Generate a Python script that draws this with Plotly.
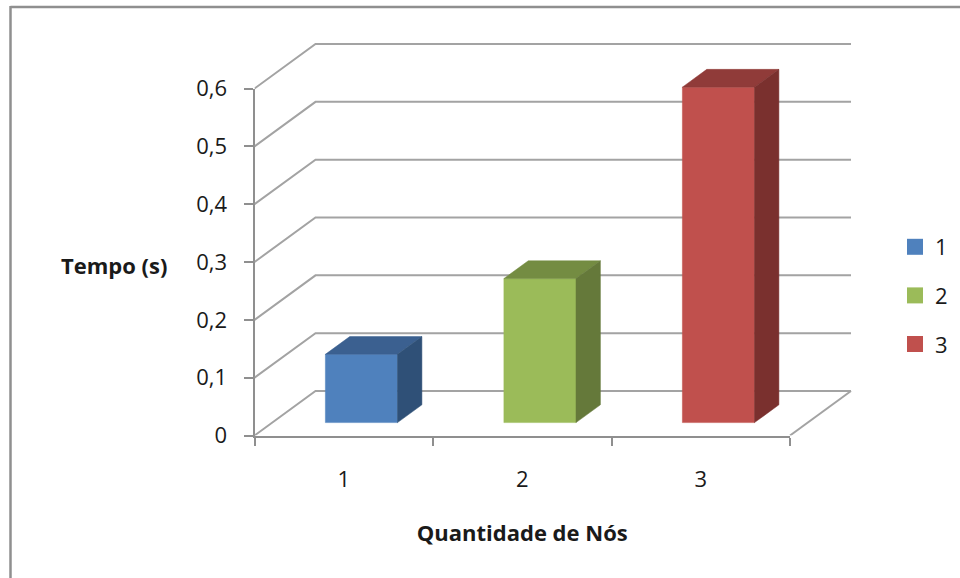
import plotly.graph_objects as go

# Chart data
categories = ["1", "2", "3"]
values = [0.118, 0.249, 0.58]
y_ticks = [0, 0.1, 0.2, 0.3, 0.4, 0.5, 0.6]
y_tick_labels = ["0", "0,1", "0,2", "0,3", "0,4", "0,5", "0,6"]

front_colors = ["#4f81bd", "#9bbb59", "#c0504d"]
top_colors = ["#3b6090", "#748c42", "#903b39"]
side_colors = ["#2f5077", "#65793a", "#7a302e"]

W, H = 960, 578
FONT = "Open Sans"
TEXT = "#1a1a1a"
GRID = "#a3a3a3"
AXIS = "#8f8f8f"

# Pixel frame of the front plane and of the oblique drawing area
LEFT, RIGHT = 254.5, 790
BOTTOM, TOP_FRONT = 435.5, 88.5
BACK_RIGHT, BACK_TOP = 851, 44

cat_px = (RIGHT - LEFT) / len(categories)
val_px = (BOTTOM - TOP_FRONT) / 0.6

# Oblique projection: full floor depth expressed in axis units
DEPTH_X = (BACK_RIGHT - RIGHT) / cat_px
DEPTH_Y = (TOP_FRONT - BACK_TOP) / val_px
BAR_WIDTH = 0.404
BAR_FRONT = 0.29
BAR_BACK = 0.69


def project(pos, value, depth):
    return pos + depth * DEPTH_X, value + depth * DEPTH_Y


def polygon(points):
    xs, ys = zip(*[project(*p) for p in points])
    return list(xs) + [xs[0]], list(ys) + [ys[0]]


fig = go.Figure()

# Real axes carry ticks and labels
fig.add_trace(go.Scatter(
    x=categories, y=values, mode="markers", marker=dict(opacity=0),
    showlegend=False, hoverinfo="skip", xaxis="x", yaxis="y",
))

# Walls and floor
x_start, x_end = 0.5, 0.5 + len(categories)
for tick in y_ticks:
    gx, gy = zip(project(x_start, tick, 0), project(x_start, tick, 1), project(x_end, tick, 1))
    fig.add_trace(go.Scatter(
        x=gx, y=gy, mode="lines", line=dict(color=GRID, width=2),
        showlegend=False, hoverinfo="skip", xaxis="x2", yaxis="y2",
    ))
fx, fy = zip(project(x_end, 0, 0), project(x_end, 0, 1))
fig.add_trace(go.Scatter(
    x=fx, y=fy, mode="lines", line=dict(color=GRID, width=2),
    showlegend=False, hoverinfo="skip", xaxis="x2", yaxis="y2",
))

# Bars: front, top and side faces
for i, value in enumerate(values):
    pos = i + 1
    a, b = pos - BAR_WIDTH / 2, pos + BAR_WIDTH / 2
    faces = [
        ([(a, 0, BAR_FRONT), (b, 0, BAR_FRONT), (b, value, BAR_FRONT), (a, value, BAR_FRONT)], front_colors[i]),
        ([(a, value, BAR_FRONT), (b, value, BAR_FRONT), (b, value, BAR_BACK), (a, value, BAR_BACK)], top_colors[i]),
        ([(b, 0, BAR_FRONT), (b, 0, BAR_BACK), (b, value, BAR_BACK), (b, value, BAR_FRONT)], side_colors[i]),
    ]
    for pts, color in faces:
        px, py = polygon(pts)
        fig.add_trace(go.Scatter(
            x=px, y=py, mode="lines", fill="toself", fillcolor=color,
            line=dict(color=color, width=0.5), showlegend=False,
            hoverinfo="skip", xaxis="x2", yaxis="y2",
        ))

# Legend entries
for i, name in enumerate(categories):
    fig.add_trace(go.Scatter(
        x=[None], y=[None], mode="markers", name=name, legendgroup=name,
        marker=dict(symbol="square", size=16, color=front_colors[i]),
        xaxis="x2", yaxis="y2",
    ))

tick_font = dict(family=FONT, size=22, color=TEXT)
title_font = dict(family=FONT, size=22, color=TEXT)
fig.update_layout(
    width=W, height=H,
    margin=dict(l=0, r=0, t=0, b=0, autoexpand=False),
    paper_bgcolor="white", plot_bgcolor="rgba(0,0,0,0)",
    font=tick_font,
    xaxis=dict(
        domain=[LEFT / W, RIGHT / W], type="category", range=[-0.5, 2.5],
        anchor="y", tickson="boundaries", ticks="outside", ticklen=8,
        tickwidth=2, tickcolor=AXIS, showline=True, linecolor=AXIS, linewidth=2,
        showgrid=False, zeroline=False, tickfont=tick_font, fixedrange=True,
        ticklabelstandoff=23,
        title=dict(text="<b>Quantidade de Nós</b>", standoff=34, font=title_font),
    ),
    yaxis=dict(
        domain=[1 - BOTTOM / H, 1 - TOP_FRONT / H], range=[0, 0.6],
        anchor="x", tickmode="array", tickvals=y_ticks, ticktext=y_tick_labels,
        ticks="outside", ticklen=9, tickwidth=2, tickcolor=AXIS,
        showline=True, linecolor=AXIS, linewidth=2, showgrid=False,
        zeroline=False, tickfont=tick_font, fixedrange=True,
        ticklabelstandoff=12,
    ),
    xaxis2=dict(
        domain=[LEFT / W, (BACK_RIGHT + 4) / W],
        range=[0.5, 0.5 + (BACK_RIGHT + 4 - LEFT) / cat_px],
        anchor="y2", visible=False, fixedrange=True,
    ),
    yaxis2=dict(
        domain=[1 - BOTTOM / H, 1 - (BACK_TOP - 4) / H],
        range=[0, (BOTTOM - BACK_TOP + 4) / val_px],
        anchor="x2", visible=False, fixedrange=True,
    ),
    legend=dict(
        x=895 / W, y=1 - 226 / H, xanchor="left", yanchor="top",
        font=tick_font, tracegroupgap=17, itemwidth=30,
        bgcolor="rgba(0,0,0,0)",
    ),
    annotations=[dict(
        text="<b>Tempo (s)</b>", xref="paper", yref="paper", x=114 / W,
        y=1 - 265 / H, xanchor="center", yanchor="middle", showarrow=False,
        font=title_font,
    )],
    shapes=[
        dict(type="line", xref="paper", yref="paper", x0=10.5 / W, x1=1,
             y0=1 - 7 / H, y1=1 - 7 / H, line=dict(color=AXIS, width=2.5)),
        dict(type="line", xref="paper", yref="paper", x0=10.5 / W, x1=10.5 / W,
             y0=1 - 6 / H, y1=0, line=dict(color=AXIS, width=2.5)),
    ],
    showlegend=True,
)

fig.write_html("out.html", config=dict(displayModeBar=False))
